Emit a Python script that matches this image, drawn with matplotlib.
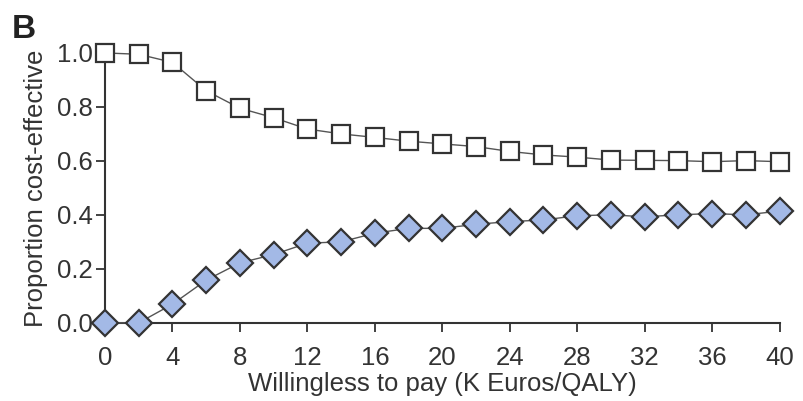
import numpy as np
import matplotlib.pyplot as plt

plt.rcParams['font.family'] = ['Liberation Sans', 'DejaVu Sans']

# willingness to pay (K Euros/QALY)
wtp = [0, 2, 4, 6, 8, 10, 12, 14, 16, 18, 20, 22, 24, 26, 28, 30, 32, 34, 36, 38, 40]
# proportion cost-effective, comparator strategy (open squares)
prop_open = [1.0, 0.995, 0.965, 0.86, 0.795, 0.76, 0.718, 0.70, 0.687, 0.673, 0.663,
             0.653, 0.635, 0.622, 0.614, 0.603, 0.602, 0.601, 0.597, 0.601, 0.597]
# proportion cost-effective, intervention (filled diamonds)
prop_filled = [0.0, 0.0, 0.069, 0.158, 0.222, 0.253, 0.295, 0.30, 0.332, 0.35, 0.35,
               0.365, 0.375, 0.381, 0.397, 0.40, 0.393, 0.40, 0.405, 0.40, 0.414]

xticks = [0, 4, 8, 12, 16, 20, 24, 28, 32, 36, 40]
yticks = [0.0, 0.2, 0.4, 0.6, 0.8, 1.0]

fig = plt.figure(figsize=(8.04, 4.01), dpi=100)
ax = fig.add_axes([0.1306, 0.195, 0.839, 0.673])

ink = '#333333'
ax.plot(wtp, prop_open, color='#555555', lw=1.0, marker='s', ms=13.5,
        mfc='white', mec=ink, mew=1.6, clip_on=False, zorder=3)
ax.plot(wtp, prop_filled, color='#555555', lw=1.0, marker='D', ms=13.5,
        mfc='#a3b9e6', mec=ink, mew=1.6, clip_on=False, zorder=3)

ax.set_xlim(0, 40)
ax.set_ylim(0, 1)
ax.set_xticks(xticks)
ax.set_yticks(yticks)
ax.set_yticklabels(['%.1f' % v for v in yticks])

for side in ['top', 'right']:
    ax.spines[side].set_visible(False)
for side in ['left', 'bottom']:
    ax.spines[side].set_color(ink)
    ax.spines[side].set_linewidth(1.5)

ax.tick_params(axis='both', colors=ink, labelcolor=ink, labelsize=18.5,
               length=6.5, width=1.3)
ax.tick_params(axis='x', pad=10)
ax.tick_params(axis='y', pad=2)

ax.set_xlabel('Willingless to pay (K Euros/QALY)', fontsize=18.5, color=ink, labelpad=2)
ax.set_ylabel('Proportion cost-effective', fontsize=18.5, color=ink, labelpad=7)

fig.text(0.014, 0.905, 'B', fontsize=24, fontweight='bold', color='#222222')

fig.savefig('out.png', dpi=100)
